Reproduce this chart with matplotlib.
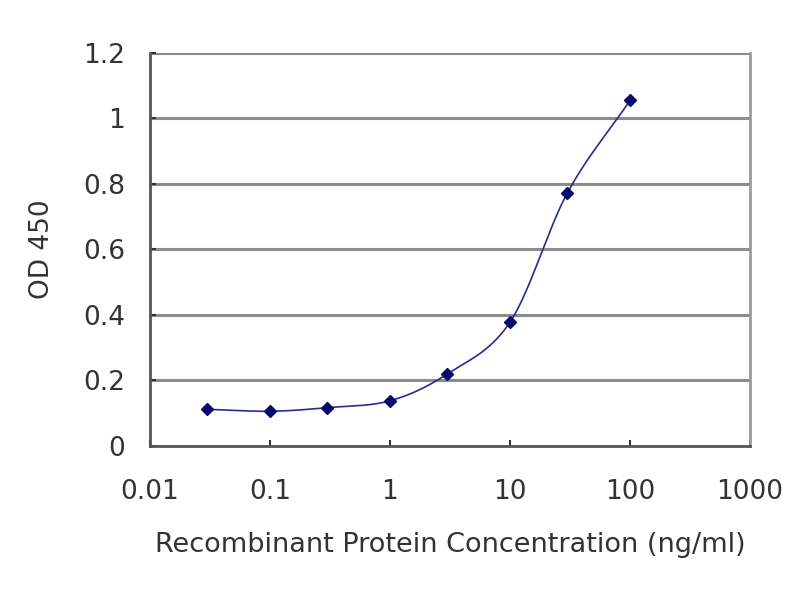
import numpy as np
import matplotlib.pyplot as plt

plt.rcParams['font.family'] = ['DejaVu Sans']

# data
conc = [0.03, 0.1, 0.3, 1, 3, 10, 30, 100]
od450 = [0.112, 0.106, 0.117, 0.138, 0.220, 0.378, 0.772, 1.055]
y_ticks = [0, 0.2, 0.4, 0.6, 0.8, 1, 1.2]
y_labels = ['0', '0.2', '0.4', '0.6', '0.8', '1', '1.2']
x_ticks = [0.01, 0.1, 1, 10, 100, 1000]
x_labels = ['0.01', '0.1', '1', '10', '100', '1000']

line_color = '#2b2b8f'
marker_color = '#0a0a6e'
text_color = '#333333'


def smooth_curve(xs, ys, n=30):
    # Catmull-Rom through the points in log-x space (like Excel's smoothed line)
    lx = np.log10(xs)
    ys = np.asarray(ys, dtype=float)
    px = np.concatenate([[2 * lx[0] - lx[1]], lx, [2 * lx[-1] - lx[-2]]])
    py = np.concatenate([[2 * ys[0] - ys[1]], ys, [2 * ys[-1] - ys[-2]]])
    out_x, out_y = [], []
    t = np.linspace(0, 1, n)
    for i in range(1, len(px) - 2):
        for p, out in ((px, out_x), (py, out_y)):
            p0, p1, p2, p3 = p[i - 1], p[i], p[i + 1], p[i + 2]
            out.extend(0.5 * ((2 * p1) + (-p0 + p2) * t
                              + (2 * p0 - 5 * p1 + 4 * p2 - p3) * t ** 2
                              + (-p0 + 3 * p1 - 3 * p2 + p3) * t ** 3))
    return 10 ** np.array(out_x), np.array(out_y)


fig = plt.figure(figsize=(8, 6), dpi=100)
ax = fig.add_axes([0.1875, 0.2567, 0.75, 0.655])

ax.set_xscale('log')
ax.set_xlim(0.01, 1000)
ax.set_ylim(0, 1.2)

# gridlines
for yv in y_ticks[1:]:
    ax.axhline(yv, color='#8c8c8c', linewidth=2.2, zorder=1)

sx, sy = smooth_curve(conc, od450)
ax.plot(sx, sy, color=line_color, linewidth=1.2, zorder=3)
ax.plot(conc, od450, linestyle='none', marker='D', markersize=6,
        color=marker_color, zorder=4)

ax.set_yticks(y_ticks)
ax.set_yticklabels(y_labels)
ax.set_xticks(x_ticks)
ax.set_xticklabels(x_labels)
ax.xaxis.set_minor_locator(plt.NullLocator())

ax.tick_params(axis='both', labelsize=19, colors=text_color, length=4,
               width=1.5, direction='in')
ax.tick_params(axis='x', pad=24)
ax.tick_params(axis='y', pad=18)

ax.spines['top'].set_visible(False)
ax.spines['right'].set_color('#9a9a9a')
ax.spines['right'].set_linewidth(2)
ax.spines['left'].set_color('#555555')
ax.spines['left'].set_linewidth(2)
ax.spines['bottom'].set_color('#555555')
ax.spines['bottom'].set_linewidth(2)

ax.set_xlabel('Recombinant Protein Concentration (ng/ml)', fontsize=19.5,
              color=text_color, labelpad=19)
ax.set_ylabel('OD 450', fontsize=19, color=text_color, labelpad=20)

plt.savefig('out.png', dpi=100)
